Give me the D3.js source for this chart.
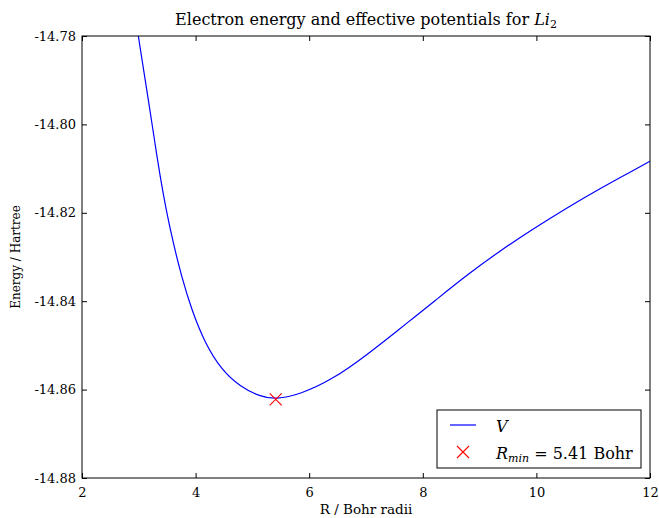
<!DOCTYPE html>
<html><head><meta charset="utf-8">
<script src="https://cdn.jsdelivr.net/npm/d3@7"></script>
<style>body{margin:0;background:#fff}svg text{font-family:"DejaVu Serif","Liberation Serif",serif;fill:#000}</style>
</head><body>
<svg id="c" width="659" height="518"></svg>
<script>
const R = [2.9, 2.99, 3.197, 3.285, 3.373, 3.479, 3.607, 3.755, 3.931, 4.165, 4.46, 4.782, 5.134, 5.41, 5.838, 6.424, 7.012, 7.599, 7.805, 8.185, 8.773, 9.359, 9.945, 10.533, 11.12, 11.706, 11.988, 12.1];
const V = [-14.7720, -14.7800, -14.7968, -14.8043, -14.8116, -14.8192, -14.8269, -14.8345, -14.8420, -14.8495, -14.8556, -14.8593, -14.8616, -14.8622, -14.8611, -14.8576, -14.8522, -14.8462, -14.8441, -14.8402, -14.8341, -14.8286, -14.8236, -14.8189, -14.8145, -14.8104, -14.8084, -14.8076];
const rMin = [5.41];
const vMin = [-14.8622];
const xTicks = [2, 4, 6, 8, 10, 12];
const yTicks = [-14.78, -14.80, -14.82, -14.84, -14.86, -14.88];

const svg = d3.select("#c");
const L = 82, Rt = 650, T = 36, B = 478;
const x = d3.scaleLinear().domain([2, 12]).range([L, Rt]);
const y = d3.scaleLinear().domain([-14.88, -14.78]).range([B, T]);

svg.append("defs").append("clipPath").attr("id", "clip")
  .append("rect").attr("x", L).attr("y", T).attr("width", Rt - L).attr("height", B - T);

const pts = R.map((r, i) => [r, V[i]]);
svg.append("path").datum(pts).attr("clip-path", "url(#clip)")
  .attr("fill", "none").attr("stroke", "#0000ff").attr("stroke-width", 1.2)
  .attr("d", d3.line().x(d => x(d[0])).y(d => y(d[1])).curve(d3.curveBasis));

const mk = (g, cx, cy, s) => {
  g.append("path").attr("d", `M${cx - s},${cy - s}L${cx + s},${cy + s}M${cx - s},${cy + s}L${cx + s},${cy - s}`)
    .attr("stroke", "#ff0000").attr("stroke-width", 1.1).attr("fill", "none");
};
rMin.forEach((r, i) => mk(svg, x(r), y(vMin[i]), 6));

const fmtY = d => d3.format(".2f")(d).replace("−", "-");
const gB = svg.append("g").attr("transform", `translate(0,${B})`)
  .call(d3.axisBottom(x).tickValues(xTicks).tickSizeInner(-5).tickSizeOuter(0).tickPadding(10).tickFormat(d3.format("d")));
const gT = svg.append("g").attr("transform", `translate(0,${T})`)
  .call(d3.axisTop(x).tickValues(xTicks).tickSizeInner(-5).tickSizeOuter(0).tickFormat(""));
const gL = svg.append("g").attr("transform", `translate(${L},0)`)
  .call(d3.axisLeft(y).tickValues(yTicks).tickSizeInner(-5).tickSizeOuter(0).tickPadding(6).tickFormat(fmtY));
const gR = svg.append("g").attr("transform", `translate(${Rt},0)`)
  .call(d3.axisRight(y).tickValues(yTicks).tickSizeInner(-5).tickSizeOuter(0).tickFormat(""));
[gB, gT, gL, gR].forEach(g => {
  g.select(".domain").remove();
  g.selectAll("line").attr("stroke", "#000");
  g.selectAll("text").attr("font-size", 13).attr("font-family", "DejaVu Serif");
});
svg.append("rect").attr("x", L).attr("y", T).attr("width", Rt - L).attr("height", B - T)
  .attr("fill", "none").attr("stroke", "#000").attr("stroke-width", 1);

svg.append("text").attr("x", (L + Rt) / 2).attr("y", 514).attr("text-anchor", "middle")
  .attr("font-size", 13.5).text("R / Bohr radii");
svg.append("text").attr("transform", `translate(20,${(T + B) / 2}) rotate(-90)`).attr("text-anchor", "middle")
  .attr("font-size", 12).text("Energy / Hartree");
const title = svg.append("text").attr("x", (L + Rt) / 2).attr("y", 25).attr("text-anchor", "middle").attr("font-size", 16);
title.append("tspan").text("Electron energy and effective potentials for ");
title.append("tspan").attr("font-style", "italic").text("Li");
title.append("tspan").attr("font-size", 11).attr("dy", 3).text("2");

const lg = svg.append("g");
lg.append("rect").attr("x", 437).attr("y", 410).attr("width", 204).attr("height", 58)
  .attr("fill", "#fff").attr("stroke", "#000").attr("stroke-width", 1);
lg.append("line").attr("x1", 450).attr("x2", 476).attr("y1", 425).attr("y2", 425)
  .attr("stroke", "#0000ff").attr("stroke-width", 1.2);
lg.append("text").attr("x", 496).attr("y", 432).attr("font-size", 16).attr("font-style", "italic").text("V");
mk(lg, 463, 452, 6);
const t2 = lg.append("text").attr("x", 496).attr("y", 459).attr("font-size", 16);
t2.append("tspan").attr("font-style", "italic").text("R");
t2.append("tspan").attr("font-style", "italic").attr("font-size", 11).attr("dy", 3).text("min");
t2.append("tspan").attr("dy", -3).text(" = 5.41 Bohr");
</script>
</body></html>
